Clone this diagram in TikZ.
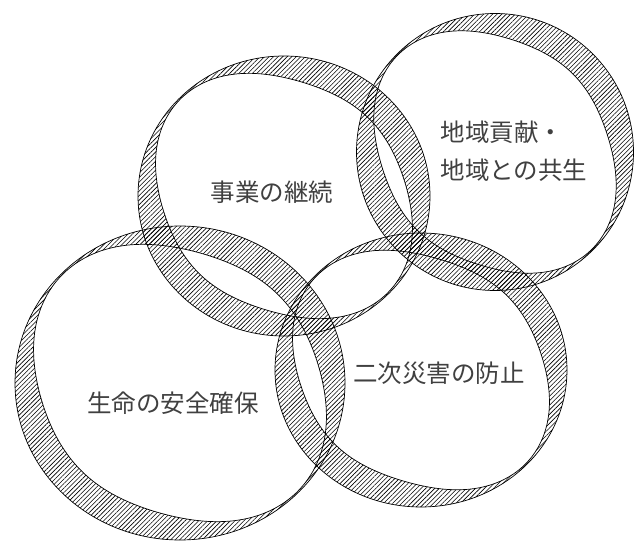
\documentclass[tikz,border=0pt]{standalone}
\usepackage{fontspec}
\newfontfamily\jpfont{Noto Sans CJK JP}
\usetikzlibrary{patterns.meta}

\begin{document}
\begin{tikzpicture}
	[x=1pt,y=-1pt,
	 declare function={taper(\t)=1-(0.5+0.5*cos(2*\t-90))*(0.5+0.5*cos(2*\t-90));},
	 ring/.style={draw=black,line width=.7pt,even odd rule,
	   pattern={Lines[angle=45,distance=3.2pt,line width=.6pt]}},
	 every node/.style={font=\jpfont\fontsize{24.5}{38}\selectfont,text=black!75,inner sep=0pt}]
	\useasboundingbox (0,0) rectangle (635,543);
	
	% rings: centre, outer radii, band width (thin at upper left and lower right)
	\foreach \cx/\cy/\rx/\ry/\w in {180/383/165/157/28, 284/196/146/140/27,
	                               495/152/138.5/138.5/27, 421/370/146/137/27}
	{
	\begin{scope}[shift={(\cx,\cy)}]
	\path[ring] (0,0) circle [x radius=\rx, y radius=\ry]
	  plot[smooth cycle,domain=0:355,samples=72]
	    ({(\rx-1.2-\w*taper(\x))*cos(\x)}, {(\ry-1.2-\w*taper(\x))*sin(\x)});
	\end{scope}
	}
	
	\node (life) at (173,403) {生命の安全確保};
	\node (business) at (272,192) {事業の継続};
	\node[align=left] (community) at (514,151) {地域貢献・\\地域との共生};
	\node (secondary) at (439,373) {二次災害の防止};
\end{tikzpicture}
\end{document}
